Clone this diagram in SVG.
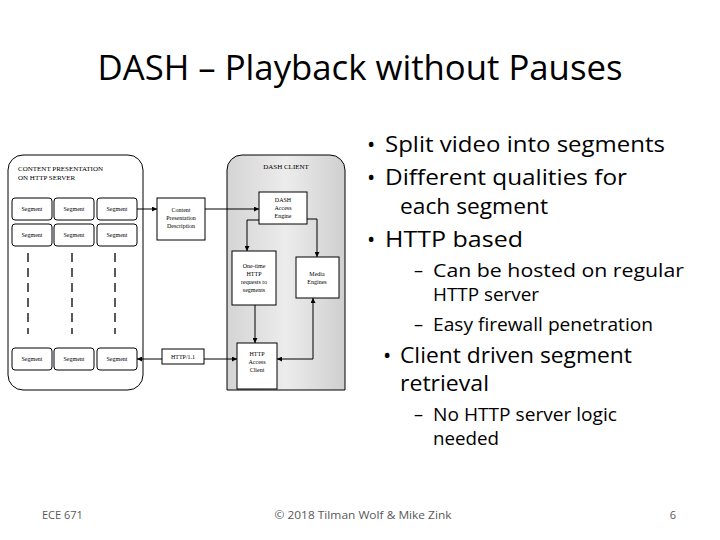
<svg xmlns="http://www.w3.org/2000/svg" width="720" height="540" viewBox="0 0 720 540">
<style>
.b{fill:#fff;stroke:#000;stroke-width:1}
.s{font-family:"Liberation Serif",serif;font-size:6px;text-anchor:middle}
.c{stroke:#000;stroke-width:1;fill:none}
.t{font-family:"Open Sans","Liberation Sans",sans-serif;fill:#000}
</style>
<defs>
<linearGradient id="g" x1="0" y1="0" x2="1" y2="0"><stop offset="0" stop-color="#d4d4d4"/><stop offset="0.5" stop-color="#ececec"/><stop offset="1" stop-color="#cfcfcf"/></linearGradient>
<marker id="a" viewBox="0 0 6 6" refX="6" refY="3" markerWidth="5" markerHeight="5" orient="auto-start-reverse"><path d="M0,0L6,3L0,6z" fill="#000"/></marker>
</defs>
<rect width="720" height="540" fill="#fff"/>
<text class="t" x="360" y="80" font-size="35" text-anchor="middle" textLength="525" lengthAdjust="spacingAndGlyphs">DASH – Playback without Pauses</text>
<g id="server">
<rect x="8" y="155" width="135" height="235" rx="15" class="b"/>
<text x="18" y="171" font-family="Liberation Serif,serif" font-size="7">CONTENT PRESENTATION</text>
<text x="18" y="180" font-family="Liberation Serif,serif" font-size="7">ON HTTP SERVER</text>
<g id="segs">
<rect x="12" y="198" width="40" height="22" rx="3" class="b"/><text class="s" x="32" y="211">Segment</text>
<rect x="54" y="198" width="40" height="22" rx="3" class="b"/><text class="s" x="74" y="211">Segment</text>
<rect x="97" y="198" width="40" height="22" rx="3" class="b"/><text class="s" x="117" y="211">Segment</text>
<rect x="12" y="224" width="40" height="22" rx="3" class="b"/><text class="s" x="32" y="237">Segment</text>
<rect x="54" y="224" width="40" height="22" rx="3" class="b"/><text class="s" x="74" y="237">Segment</text>
<rect x="97" y="224" width="40" height="22" rx="3" class="b"/><text class="s" x="117" y="237">Segment</text>
<rect x="12" y="348" width="40" height="22" rx="3" class="b"/><text class="s" x="32" y="361">Segment</text>
<rect x="54" y="348" width="40" height="22" rx="3" class="b"/><text class="s" x="74" y="361">Segment</text>
<rect x="97" y="348" width="40" height="22" rx="3" class="b"/><text class="s" x="117" y="361">Segment</text>
</g>
<g stroke="#000" stroke-width="1.3" stroke-dasharray="9,6">
<line x1="28" y1="253" x2="28" y2="334"/><line x1="72" y1="253" x2="72" y2="334"/><line x1="115" y1="253" x2="115" y2="334"/>
</g>
</g>
<g id="client">
<path d="M242,155H330A15,15 0 0 1 345,170V390H227V170A15,15 0 0 1 242,155z" fill="url(#g)" stroke="#000"/>
<text x="286" y="169" font-family="Liberation Serif,serif" font-size="7" text-anchor="middle">DASH CLIENT</text>
</g>
<g id="cpd"><rect x="157" y="198" width="48" height="42" class="b"/><text class="s" x="181" y="212">Content</text><text class="s" x="181" y="220">Presentation</text><text class="s" x="181" y="228">Description</text></g>
<g id="engine"><rect x="259" y="192" width="48" height="32" class="b"/><text class="s" x="283" y="202">DASH</text><text class="s" x="283" y="210">Access</text><text class="s" x="283" y="218">Engine</text></g>
<g id="onetime"><rect x="232" y="251" width="44" height="54" class="b"/><text class="s" x="254" y="268">One-time</text><text class="s" x="254" y="276">HTTP</text><text class="s" x="254" y="284">requests to</text><text class="s" x="254" y="292">segments</text></g>
<g id="media"><rect x="296" y="257" width="43" height="41" class="b"/><text class="s" x="317" y="276">Media</text><text class="s" x="317" y="284">Engines</text></g>
<g id="hac"><rect x="237" y="343" width="40" height="46" class="b"/><text class="s" x="257" y="356">HTTP</text><text class="s" x="257" y="364">Access</text><text class="s" x="257" y="372">Client</text></g>
<g id="connectors">
<path class="c" d="M137,209H157" marker-end="url(#a)"/>
<path class="c" d="M205,209H259" marker-end="url(#a)"/>
<path class="c" d="M259,220H247V251" marker-end="url(#a)"/>
<path class="c" d="M307,219H317V257" marker-end="url(#a)"/>
<path class="c" d="M255,305V343" marker-end="url(#a)"/>
<path class="c" d="M277,359H313V298" marker-start="url(#a)" marker-end="url(#a)"/>
<path class="c" d="M137,359H237" marker-start="url(#a)" marker-end="url(#a)"/>
<rect x="162" y="349" width="42" height="15" class="b"/><text class="s" x="183" y="359">HTTP/1.1</text>
</g>
<g class="t" font-size="22">
<text x="367" y="152">•</text><text x="385" y="152" textLength="280" lengthAdjust="spacingAndGlyphs">Split video into segments</text>
<text x="367" y="185">•</text><text x="385" y="185" textLength="242" lengthAdjust="spacingAndGlyphs">Different qualities for</text>
<text x="400" y="214" textLength="148" lengthAdjust="spacingAndGlyphs">each segment</text>
<text x="367" y="247">•</text><text x="385" y="247" textLength="138" lengthAdjust="spacingAndGlyphs">HTTP based</text>
<text x="383" y="363">•</text><text x="400" y="363" textLength="232" lengthAdjust="spacingAndGlyphs">Client driven segment</text>
<text x="400" y="391" textLength="89" lengthAdjust="spacingAndGlyphs">retrieval</text>
</g>
<g class="t" font-size="18">
<text x="414" y="277">–</text><text x="433" y="277" textLength="251" lengthAdjust="spacingAndGlyphs">Can be hosted on regular</text>
<text x="433" y="301" textLength="106" lengthAdjust="spacingAndGlyphs">HTTP server</text>
<text x="414" y="331">–</text><text x="433" y="331" textLength="220" lengthAdjust="spacingAndGlyphs">Easy firewall penetration</text>
<text x="414" y="421">–</text><text x="433" y="421" textLength="184" lengthAdjust="spacingAndGlyphs">No HTTP server logic</text>
<text x="433" y="445" textLength="66" lengthAdjust="spacingAndGlyphs">needed</text>
</g>
<g class="t" font-size="11" fill="#595959">
<text x="42" y="519" fill="#595959">ECE 671</text>
<text x="363" y="519" text-anchor="middle" fill="#595959" textLength="177" lengthAdjust="spacingAndGlyphs">© 2018 Tilman Wolf &amp; Mike Zink</text>
<text x="673" y="519" text-anchor="middle" fill="#595959">6</text>
</g>
</svg>
